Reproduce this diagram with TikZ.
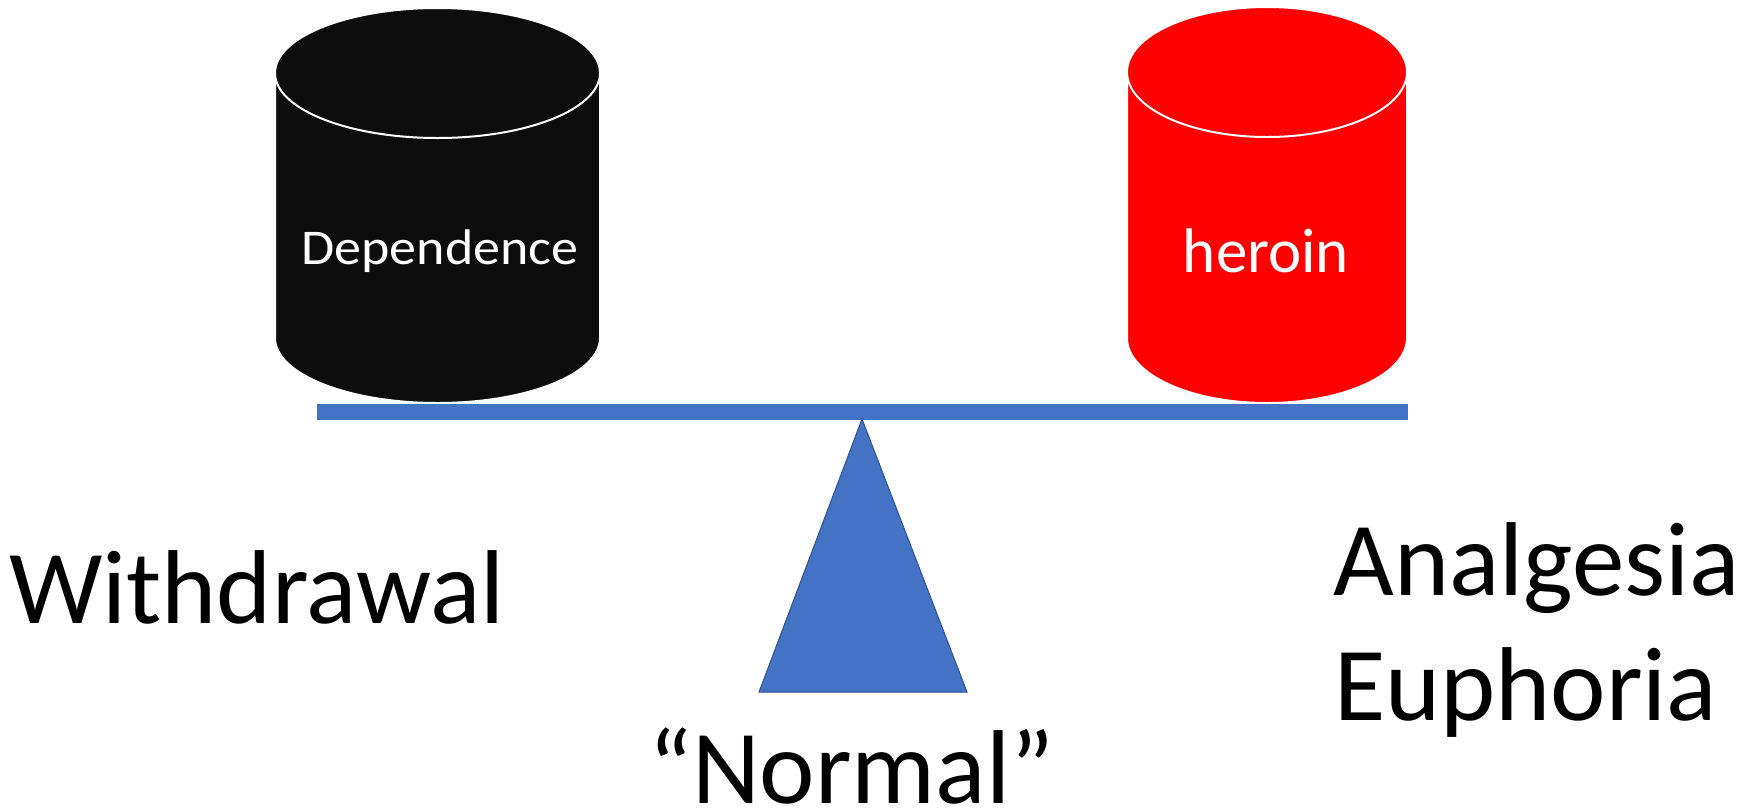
\documentclass[tikz,border=0pt]{standalone}
\usepackage{fontspec}
\setmainfont{Carlito}
\definecolor{beamblue}{HTML}{4472C4}
\definecolor{beamedge}{HTML}{2F528F}
\definecolor{drumblack}{HTML}{0D0D0D}
\definecolor{drumred}{HTML}{FF0000}
\begin{document}
\begin{tikzpicture}[x=1pt,y=1pt,
  drum/.style={draw=white,line width=2pt},
  bigtext/.style={inner sep=0pt,anchor=base west,font=\fontsize{105}{112}\selectfont},
  drumtext/.style={inner sep=0pt,anchor=base,text=white}]
\useasboundingbox (0,0) rectangle (1760,-807);

% left drum: dependence
\begin{scope}
  \def\cx{437.5}\def\rx{162.5}\def\ry{65}
  \path[drum,fill=drumblack] (\cx-\rx,-73) -- (\cx-\rx,-338)
    arc[start angle=180,end angle=360,x radius=\rx,y radius=\ry]
    -- (\cx+\rx,-73) -- cycle;
  \path[drum,fill=drumblack] (\cx,-73) ellipse[x radius=\rx,y radius=\ry];
  \node[drumtext,font=\fontsize{50}{56}\selectfont,xscale=1.08] (dep) at (440,-264) {Dependence};
\end{scope}

% right drum: heroin
\begin{scope}
  \def\cx{1267}\def\rx{140}\def\ry{65}
  \path[drum,fill=drumred] (\cx-\rx,-72) -- (\cx-\rx,-338)
    arc[start angle=180,end angle=360,x radius=\rx,y radius=\ry]
    -- (\cx+\rx,-72) -- cycle;
  \path[drum,fill=drumred] (\cx,-72) ellipse[x radius=\rx,y radius=\ry];
  \node[drumtext,font=\fontsize{63}{70}\selectfont] (her) at (1266,-272) {heroin};
\end{scope}

% beam and fulcrum
\fill[beamblue] (317,-404) rectangle (1408,-420);
\draw[fill=beamblue,draw=beamedge,line width=1pt,line join=miter]
  (862,-419) -- (967,-692) -- (759,-692) -- cycle;

% labels
\node[bigtext] (wd) at (9,-623) {Withdrawal};
\node[bigtext] (an) at (1333,-595) {Analgesia};
\node[bigtext] (eu) at (1334,-720) {Euphoria};
\node[bigtext] (no) at (648,-803) {“Normal”};
\end{tikzpicture}
\end{document}
